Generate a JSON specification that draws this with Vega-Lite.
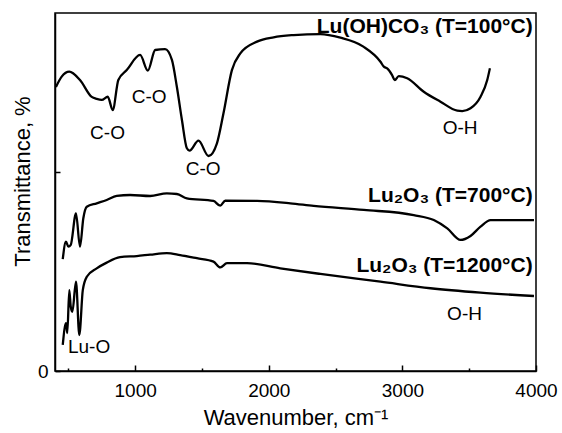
{
  "$schema": "https://vega.github.io/schema/vega-lite/v6.json",
  "width": 481,
  "height": 358,
  "autosize": "none",
  "padding": {"left": 55, "top": 13, "right": 26, "bottom": 62},
  "background": "white",
  "config": {
    "font": "Liberation Sans",
    "view": {"stroke": "black", "strokeWidth": 1.5},
    "axis": {"domainColor": "black", "domainWidth": 1.5, "tickColor": "black", "tickWidth": 1.5, "labelColor": "black", "titleColor": "black", "grid": false, "labelFontSize": 19, "titleFontSize": 22, "titleFontWeight": "normal", "labelFont": "Liberation Sans", "titleFont": "Liberation Sans"}
  },
  "datasets": {
    "curves": [
      {"s": "100", "x": 407, "y": 1.428}, {"s": "100", "x": 450, "y": 1.48}, {"s": "100", "x": 507, "y": 1.505}, {"s": "100", "x": 587, "y": 1.463}, {"s": "100", "x": 675, "y": 1.378}, {"s": "100", "x": 712, "y": 1.368}, {"s": "100", "x": 750, "y": 1.363}, {"s": "100", "x": 795, "y": 1.379}, {"s": "100", "x": 832, "y": 1.312}, {"s": "100", "x": 874, "y": 1.463}, {"s": "100", "x": 937, "y": 1.513}, {"s": "100", "x": 1037, "y": 1.589}, {"s": "100", "x": 1095, "y": 1.51}, {"s": "100", "x": 1150, "y": 1.614}, {"s": "100", "x": 1224, "y": 1.618}, {"s": "100", "x": 1275, "y": 1.564}, {"s": "100", "x": 1312, "y": 1.429}, {"s": "100", "x": 1350, "y": 1.262}, {"s": "100", "x": 1387, "y": 1.12}, {"s": "100", "x": 1407, "y": 1.108}, {"s": "100", "x": 1474, "y": 1.158}, {"s": "100", "x": 1549, "y": 1.081}, {"s": "100", "x": 1612, "y": 1.145}, {"s": "100", "x": 1661, "y": 1.296}, {"s": "100", "x": 1724, "y": 1.513}, {"s": "100", "x": 1787, "y": 1.597}, {"s": "100", "x": 1912, "y": 1.656}, {"s": "100", "x": 2036, "y": 1.678}, {"s": "100", "x": 2186, "y": 1.689}, {"s": "100", "x": 2386, "y": 1.694}, {"s": "100", "x": 2536, "y": 1.676}, {"s": "100", "x": 2708, "y": 1.631}, {"s": "100", "x": 2836, "y": 1.555}, {"s": "100", "x": 2861, "y": 1.53}, {"s": "100", "x": 2886, "y": 1.522}, {"s": "100", "x": 2923, "y": 1.488}, {"s": "100", "x": 2943, "y": 1.463}, {"s": "100", "x": 2973, "y": 1.483}, {"s": "100", "x": 3036, "y": 1.472}, {"s": "100", "x": 3160, "y": 1.404}, {"s": "100", "x": 3285, "y": 1.354}, {"s": "100", "x": 3411, "y": 1.309}, {"s": "100", "x": 3448, "y": 1.307}, {"s": "100", "x": 3510, "y": 1.321}, {"s": "100", "x": 3585, "y": 1.379}, {"s": "100", "x": 3635, "y": 1.463}, {"s": "100", "x": 3655, "y": 1.522},
      {"s": "700", "x": 458, "y": 0.562}, {"s": "700", "x": 482, "y": 0.65}, {"s": "700", "x": 500, "y": 0.625}, {"s": "700", "x": 518, "y": 0.634}, {"s": "700", "x": 557, "y": 0.793}, {"s": "700", "x": 587, "y": 0.625}, {"s": "700", "x": 612, "y": 0.768}, {"s": "700", "x": 638, "y": 0.826}, {"s": "700", "x": 712, "y": 0.843}, {"s": "700", "x": 787, "y": 0.86}, {"s": "700", "x": 862, "y": 0.881}, {"s": "700", "x": 962, "y": 0.885}, {"s": "700", "x": 1112, "y": 0.88}, {"s": "700", "x": 1237, "y": 0.893}, {"s": "700", "x": 1312, "y": 0.89}, {"s": "700", "x": 1387, "y": 0.868}, {"s": "700", "x": 1586, "y": 0.855}, {"s": "700", "x": 1637, "y": 0.831}, {"s": "700", "x": 1674, "y": 0.856}, {"s": "700", "x": 1912, "y": 0.855}, {"s": "700", "x": 2161, "y": 0.843}, {"s": "700", "x": 2336, "y": 0.83}, {"s": "700", "x": 2711, "y": 0.81}, {"s": "700", "x": 3085, "y": 0.784}, {"s": "700", "x": 3235, "y": 0.759}, {"s": "700", "x": 3336, "y": 0.717}, {"s": "700", "x": 3435, "y": 0.659}, {"s": "700", "x": 3510, "y": 0.679}, {"s": "700", "x": 3585, "y": 0.726}, {"s": "700", "x": 3660, "y": 0.759}, {"s": "700", "x": 3985, "y": 0.759},
      {"s": "1200", "x": 458, "y": 0.131}, {"s": "1200", "x": 482, "y": 0.24}, {"s": "1200", "x": 492, "y": 0.191}, {"s": "1200", "x": 507, "y": 0.407}, {"s": "1200", "x": 518, "y": 0.323}, {"s": "1200", "x": 530, "y": 0.298}, {"s": "1200", "x": 557, "y": 0.449}, {"s": "1200", "x": 582, "y": 0.181}, {"s": "1200", "x": 608, "y": 0.407}, {"s": "1200", "x": 638, "y": 0.474}, {"s": "1200", "x": 712, "y": 0.516}, {"s": "1200", "x": 787, "y": 0.545}, {"s": "1200", "x": 887, "y": 0.572}, {"s": "1200", "x": 1012, "y": 0.578}, {"s": "1200", "x": 1112, "y": 0.585}, {"s": "1200", "x": 1237, "y": 0.593}, {"s": "1200", "x": 1337, "y": 0.583}, {"s": "1200", "x": 1462, "y": 0.567}, {"s": "1200", "x": 1586, "y": 0.55}, {"s": "1200", "x": 1637, "y": 0.521}, {"s": "1200", "x": 1687, "y": 0.542}, {"s": "1200", "x": 1837, "y": 0.542}, {"s": "1200", "x": 2086, "y": 0.516}, {"s": "1200", "x": 2386, "y": 0.488}, {"s": "1200", "x": 2836, "y": 0.449}, {"s": "1200", "x": 3210, "y": 0.416}, {"s": "1200", "x": 3585, "y": 0.394}, {"s": "1200", "x": 3985, "y": 0.377}
    ],
    "notes": [
      {"label": "C-O", "x": 793, "y": 1.198},
      {"label": "C-O", "x": 1104, "y": 1.379},
      {"label": "C-O", "x": 1509, "y": 1.014},
      {"label": "O-H", "x": 3432, "y": 1.22},
      {"label": "O-H", "x": 3465, "y": 0.287},
      {"label": "Lu-O", "x": 655, "y": 0.122}
    ],
    "titles": [
      {"label": "Lu(OH)CO₃ (T=100°C)", "x": 3975, "y": 1.699},
      {"label": "Lu₂O₃ (T=700°C)", "x": 3975, "y": 0.851},
      {"label": "Lu₂O₃ (T=1200°C)", "x": 3975, "y": 0.499}
    ]
  },
  "layer": [
    {
      "data": {"name": "curves"},
      "mark": {"type": "line", "color": "black", "strokeWidth": 2.3, "interpolate": "monotone"},
      "encoding": {
        "x": {"field": "x", "type": "quantitative", "scale": {"domain": [400, 4000], "nice": false, "zero": false},
          "axis": {"title": "Wavenumber, cm⁻¹", "values": [500, 1000, 1500, 2000, 2500, 3000, 3500, 4000], "format": "d", "labelExpr": "datum.value % 1000 == 0 ? datum.label : ''", "tickSize": {"condition": {"test": "datum.value % 1000 == 0", "value": -6}, "value": -3}, "labelPadding": 16, "labelFlush": false, "labelOverlap": false, "titleY": 46, "titleBaseline": "middle"}},
        "y": {"field": "y", "type": "quantitative", "scale": {"domain": [0, 1.8], "nice": false},
          "axis": {"title": "Transmittance, %", "values": [0, 1], "labelExpr": "datum.value == 0 ? '0' : ''", "tickSize": -5, "labelPadding": 12, "labelFlush": false, "labelOverlap": false, "titleX": -33, "titleY": 168, "titleBaseline": "middle"}},
        "detail": {"field": "s"}
      }
    },
    {
      "data": {"name": "notes"},
      "mark": {"type": "text", "fontSize": 19, "font": "Liberation Sans", "color": "black", "baseline": "middle", "align": "center"},
      "encoding": {
        "x": {"field": "x", "type": "quantitative"},
        "y": {"field": "y", "type": "quantitative"},
        "text": {"field": "label"}
      }
    },
    {
      "data": {"name": "titles"},
      "mark": {"type": "text", "fontSize": 21, "fontWeight": "bold", "font": "Liberation Sans", "color": "black", "baseline": "alphabetic", "align": "right"},
      "encoding": {
        "x": {"field": "x", "type": "quantitative"},
        "y": {"field": "y", "type": "quantitative"},
        "text": {"field": "label"}
      }
    }
  ]
}
